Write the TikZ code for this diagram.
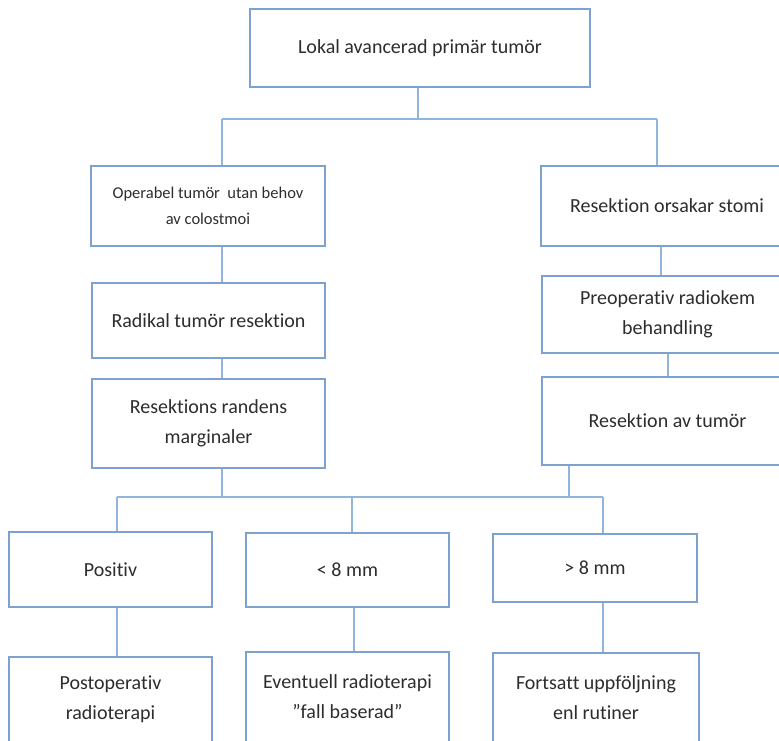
\documentclass[tikz,border=0pt]{standalone}
\usepackage{fontspec}
\setmainfont[Ligatures=NoCommon]{Carlito}
\definecolor{boxline}{RGB}{125,162,205}
\definecolor{connline}{RGB}{145,182,222}
\definecolor{txt}{RGB}{45,45,45}
\tikzset{
  box/.style={draw=boxline, line width=1.3pt, rectangle, inner sep=0pt,
    align=center, text=txt, font=\fontsize{20}{30}\selectfont},
  smallbox/.style={box, font=\fontsize{16.5}{26}\selectfont},
  conn/.style={draw=connline, line width=1.3pt},
}
% place a box by its corner pixels (x1,y1)-(x2,y2)
\newcommand{\pbox}[7][box]{%
  \node[#1, minimum width={(#5)-(#3)}, minimum height={(#6)-(#4)}]
    (#2) at ({((#3)+(#5))/2},{((#4)+(#6))/2}) {#7};}
\begin{document}
\begin{tikzpicture}[x=1pt,y=-1pt]
\useasboundingbox (0,0) rectangle (779,740);
\fill[white] (0,0) rectangle (779,740);

% boxes
\pbox{top}{250}{9}{590}{87}{Lokal avancerad primär tumör}
\pbox[smallbox]{opb}{91}{166}{325}{246}{Operabel tumör\ \ utan behov\\av colostmoi}
\pbox{stomi}{541}{166}{793}{246}{Resektion orsakar stomi}
\pbox{rad}{92}{283}{325}{358}{Radikal tumör resektion}
\pbox{marg}{92}{379}{325}{468}{Resektions randens\\marginaler}
\pbox{preop}{542}{276}{793}{353}{Preoperativ radiokem\\behandling}
\pbox{resav}{542}{377}{793}{465}{Resektion av tumör}
\pbox{pos}{9}{532}{212}{607}{Positiv}
\pbox{lt}{246}{533}{449}{607}{< 8 mm}
\pbox{gt}{493}{534}{697}{602}{> 8 mm}
\pbox{postop}{9}{657}{212}{742}{Postoperativ\\radioterapi}
\pbox{event}{246}{652}{449}{742}{Eventuell radioterapi\\”fall baserad”}
\pbox{fort}{493}{653}{699}{742}{Fortsatt uppföljning\\enl rutiner}

% junction points
\coordinate (busA) at (418,119);
\coordinate (jL) at (222,119);
\coordinate (jR) at (657,119);
\coordinate (busB) at (222,497);
\coordinate (jB1) at (117,497);
\coordinate (jB2) at (352,497);
\coordinate (jB3) at (603,497);
\coordinate (jRes) at (569,497);
\coordinate (xL) at (222,0);
\coordinate (xR1) at (661,0);
\coordinate (xR2) at (668,0);
\coordinate (xP) at (117,0);
\coordinate (xE) at (354,0);
\coordinate (xF) at (603,0);

% connectors, first level
\draw[conn] (top.south -| busA) -- (busA);
\draw[conn] (jL) -- (jR);
\draw[conn] (jL) -- (jL |- opb.north);
\draw[conn] (jR) -- (jR |- stomi.north);

% left column
\draw[conn] (xL |- opb.south) -- (xL |- rad.north);
\draw[conn] (xL |- rad.south) -- (xL |- marg.north);
\draw[conn] (xL |- marg.south) -- (busB);

% right column
\draw[conn] (xR1 |- stomi.south) -- (xR1 |- preop.north);
\draw[conn] (xR2 |- preop.south) -- (xR2 |- resav.north);
\draw[conn] (jRes |- resav.south) -- (jRes);

% lower bus and branches
\draw[conn] (jB1) -- (jB3);
\draw[conn] (jB1) -- (jB1 |- pos.north);
\draw[conn] (jB2) -- (jB2 |- lt.north);
\draw[conn] (jB3) -- (jB3 |- gt.north);

\draw[conn] (xP |- pos.south) -- (xP |- postop.north);
\draw[conn] (xE |- lt.south) -- (xE |- event.north);
\draw[conn] (xF |- gt.south) -- (xF |- fort.north);
\end{tikzpicture}
\end{document}
